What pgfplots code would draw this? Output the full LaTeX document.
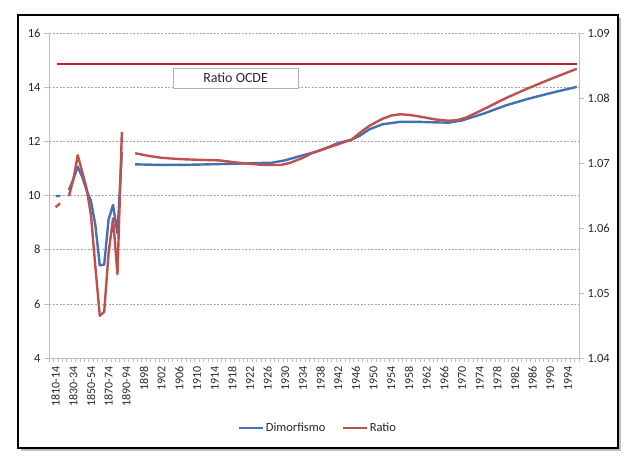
\documentclass[border=0pt]{standalone}
\usepackage{pgfplots}
\pgfplotsset{compat=1.18}
\usepackage{pgfplotstable}
\usepackage{fontspec}
\setmainfont{Carlito}
\definecolor{dimblue}{RGB}{68,114,176}
\definecolor{ratred}{RGB}{192,80,77}
\definecolor{ocde}{RGB}{190,30,45}
\definecolor{axgray}{RGB}{190,190,190}
\definecolor{txt}{RGB}{40,40,40}

\pgfplotstableread{
x y
1 9.98
2 9.98
3 nan
4 10.2
5 10.6
6 11.06
7 10.7
8 10.2
9 9.8
10 8.9
11 7.42
12 7.45
13 9.12
14 9.65
15 8.6
16 11.6
17 nan
19 11.15
22 11.14
25 11.13
29 11.13
33 11.14
38 11.16
43 11.18
47 11.20
50 11.21
53 11.30
56 11.44
60 11.62
63 11.80
65 11.94
68 12.06
70 12.22
72 12.44
75 12.63
79 12.72
83 12.72
87 12.70
90 12.69
93 12.77
98 13.03
103 13.33
108 13.57
113 13.78
119 14.01
}\dimorf

\pgfplotstableread{
x y
1 1.0632
2 1.0638
3 nan
4 1.0649
5 1.0674
6 1.0712
7 1.0687
8 1.0661
9 1.0620
10 1.0540
11 1.0465
12 1.0471
13 1.0562
14 1.0615
15 1.0529
16 1.0748
17 nan
19 1.0715
22 1.0711
25 1.0708
29 1.0706
33 1.0705
38 1.0704
43 1.0700
48 1.0697
52 1.0697
54 1.0700
57 1.0708
59 1.0715
62 1.0722
65 1.0729
68 1.0736
70 1.0747
72 1.0757
75 1.0768
77 1.0773
79 1.0775
81 1.0774
83 1.0772
87 1.0767
90 1.0765
92 1.0766
94 1.0770
98 1.0783
103 1.0800
108 1.0815
113 1.0829
119 1.0845
}\ratio

\begin{document}
\begin{tikzpicture}[x=1pt,y=1pt]
\path[use as bounding box] (0,0) rectangle (636,469);
\fill[white] (0,0) rectangle (636,469);
\fill[black!25] (21,18) rectangle (621,451);
\fill[white] (18,21) rectangle (618,454);
\draw[line width=2.5pt] (18,21) rectangle (618,454);

\begin{axis}[
  at={(49pt,111pt)}, anchor=south west, scale only axis,
  width=530pt, height=325pt,
  xmin=-0.5, xmax=119.5, ymin=4, ymax=16,
  axis x line*=bottom, axis y line*=left,
  axis line style={axgray, line width=0.8pt},
  ytick={4,6,...,16},
  ymajorgrids,
  grid style={gray!70, dash pattern=on 2pt off 1.5pt, line width=0.5pt},
  xtick={1,5,...,117},
  xticklabels={1810-14,1830-34,1850-54,1870-74,1890-94,1898,1902,1906,1910,1914,1918,1922,1926,1930,1934,1938,1942,1946,1950,1954,1958,1962,1966,1970,1974,1978,1982,1986,1990,1994},
  minor xtick={-0.5,0.5,...,119.5},
  major x tick style={draw=none},
  minor x tick style={axgray, line width=0.6pt},
  ytick style={axgray, line width=0.6pt},
  minor tick length=4pt, major tick length=5pt,
  tick align=outside,
  xticklabel style={rotate=90, anchor=east, font=\fontsize{12}{14}\selectfont, text=txt},
  yticklabel style={font=\fontsize{12.5}{14}\selectfont, text=txt},
  /pgf/number format/assume math mode=true,
  unbounded coords=jump,
  legend style={at={(0.507,-0.215)}, anchor=center, draw=none, fill=none,
    legend columns=2, font=\fontsize{12.5}{14}\selectfont, text=txt,
    /tikz/every even column/.append style={column sep=14pt}},
  legend image code/.code={\draw[#1] (0pt,0pt) -- (24pt,0pt);},
]
\addplot[dimblue, line width=2.4pt, line join=round] table {\dimorf};
\addlegendentry{Dimorfismo}
\addlegendimage{ratred, line width=2.4pt}
\addlegendentry{Ratio}
\node[draw=gray!60, fill=white, minimum width=125pt, minimum height=20pt,
      inner sep=0pt, font=\fontsize{14}{16}\selectfont, text=txt]
      at (axis cs:41.75,14.34) {Ratio OCDE};
\end{axis}

\begin{axis}[
  at={(49pt,111pt)}, anchor=south west, scale only axis,
  width=530pt, height=325pt,
  xmin=-0.5, xmax=119.5, ymin=1.04, ymax=1.09,
  axis x line=none, axis y line*=right,
  axis line style={axgray, line width=0.8pt},
  ytick={1.04,1.05,1.06,1.07,1.08,1.09},
  scaled y ticks=false,
  ytick style={axgray, line width=0.6pt},
  major tick length=5pt, tick align=outside,
  yticklabel style={font=\fontsize{12.5}{14}\selectfont, text=txt,
    /pgf/number format/fixed, /pgf/number format/precision=2,
    /pgf/number format/fixed zerofill},
  /pgf/number format/assume math mode=true,
  unbounded coords=jump,
]
\addplot[ocde, line width=2.6pt] coordinates {(1.3,1.0852) (119,1.0852)};
\addplot[ratred, line width=2.4pt, line join=round] table {\ratio};
\end{axis}
\end{tikzpicture}
\end{document}
